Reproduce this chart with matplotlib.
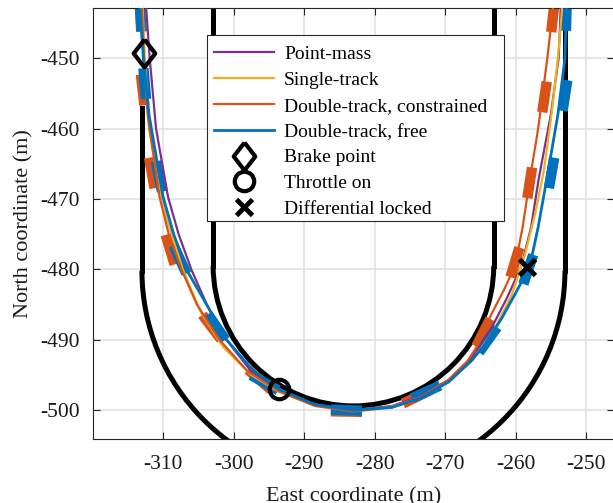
import numpy as np
import matplotlib
matplotlib.use('Agg')
import matplotlib.pyplot as plt
from matplotlib.patches import Arc, Rectangle

plt.rcParams['font.family'] = ['Liberation Serif', 'DejaVu Serif']
plt.rcParams['axes.unicode_minus'] = False

# track boundaries (hairpin): centre of the turn, radii, top of straights
track_cx = -283.0
inner_cy = -479.5
outer_cy = -480.2
inner_r = 19.9
outer_r = 30.0
straight_top = -440.0
outer_left_top = -457.0

# trajectories (east, north) in m
pm_x = [-312.4, -311.9, -311.0, -309.3, -307.8, -306.0, -303.8, -301.0, -297.5, -293.6, -288.5, -283.0,
        -277.5, -273.5, -269.5, -266.2, -263.5, -261.2, -259.2, -257.8, -256.7, -255.0, -253.9, -253.6]
pm_y = [-442.9, -450.0, -460.0, -469.7, -475.0, -480.0, -485.0, -490.0, -494.5, -497.2, -499.2, -500.0,
        -499.4, -498.0, -495.7, -492.5, -488.5, -484.0, -479.6, -474.0, -467.0, -458.0, -450.0, -442.9]

st_x = [-312.9, -312.6, -312.0, -310.8, -309.4, -307.2, -304.7, -301.5, -297.5, -293.6, -288.5, -283.0,
        -277.5, -273.5, -269.5, -266.0, -263.0, -260.5, -258.7, -257.2, -256.0, -254.9, -254.0, -253.4]
st_y = [-442.9, -450.0, -460.0, -467.0, -473.0, -480.0, -486.0, -491.0, -495.0, -497.4, -499.3, -500.1,
        -499.5, -498.2, -496.0, -492.8, -488.5, -483.5, -478.0, -472.0, -466.0, -458.0, -450.0, -442.9]

dc_x = [-313.0, -312.7, -312.2, -310.5, -309.2, -307.4, -305.2, -302.0, -298.0, -293.6, -288.5, -283.0,
        -277.5, -273.5, -269.5, -266.8, -265.2, -263.5, -261.7, -260.1, -259.0, -258.0, -256.8, -255.5, -254.7]
dc_y = [-442.9, -450.0, -458.0, -469.7, -475.0, -480.0, -485.0, -490.0, -494.5, -497.3, -499.4, -500.2,
        -499.6, -498.1, -495.7, -493.0, -490.5, -486.5, -483.0, -479.6, -474.0, -467.3, -460.0, -450.0, -442.9]

df_x = [-313.3, -312.8, -312.0, -310.0, -308.5, -306.7, -304.4, -301.0, -297.3, -293.6, -288.5, -283.0,
        -277.5, -273.6, -269.5, -266.3, -264.6, -262.0, -259.8, -258.0, -256.8, -255.6, -254.0, -253.0, -252.8]
df_y = [-442.9, -450.0, -458.0, -469.7, -475.0, -480.0, -484.0, -490.0, -494.3, -497.0, -499.2, -500.0,
        -499.6, -498.3, -496.0, -493.0, -491.0, -487.0, -483.0, -479.6, -474.0, -467.3, -458.0, -450.0, -442.9]

# vehicle footprints along the double-track runs
dc_car_x = [-313.2, -312.9, -311.6, -309.0, -303.1, -296.3, -284.0, -274.0, -264.6, -260.1, -258.0, -255.9, -254.7]
dc_car_y = [-444.0, -454.5, -466.3, -477.2, -488.2, -495.7, -500.2, -498.1, -489.0, -479.0, -467.7, -455.5, -444.1]
df_car_x = [-313.2, -312.6, -310.6, -307.6, -302.4, -295.6, -284.0, -272.7, -263.9, -258.2, -254.9, -253.0, -252.8]
df_car_y = [-444.0, -453.6, -466.8, -478.6, -488.2, -496.1, -500.0, -497.4, -490.0, -480.0, -466.3, -455.3, -443.9]
car_len = 4.4
car_w = 7.5

# events
brake_x, brake_y = -312.7, -449.2
throttle_x, throttle_y = -293.6, -497.0
diff_x, diff_y = -258.4, -479.6

labels = ['Point-mass', 'Single-track', 'Double-track, constrained', 'Double-track, free']
colors = ['#7E2F8E', '#EDB120', '#D95319', '#0072BD']

xticks = [-310, -300, -290, -280, -270, -260, -250]
yticks = [-500, -490, -480, -470, -460, -450]


def draw_cars(ax, px, py, cx, cy, color):
    px = np.asarray(px)
    py = np.asarray(py)
    for x, y in zip(cx, cy):
        i = int(np.argmin((px - x) ** 2 + (py - y) ** 2))
        i0, i1 = max(i - 1, 0), min(i + 1, len(px) - 1)
        d = np.array([px[i1] - px[i0], py[i1] - py[i0]])
        d = d / np.hypot(*d)
        ax.plot([x - d[0] * car_len / 2, x + d[0] * car_len / 2],
                [y - d[1] * car_len / 2, y + d[1] * car_len / 2],
                color=color, lw=car_w, solid_capstyle='butt', zorder=2.5)


fig = plt.figure(figsize=(6.13, 5.03), dpi=100)
ax = fig.add_axes([93.3 / 613, 64 / 503, 521 / 613, 430.7 / 503])

# track
k = dict(color='black', lw=3.6, zorder=2)
ax.add_patch(Arc((track_cx, inner_cy), 2 * inner_r, 2 * inner_r, theta1=180, theta2=360, **k))
ax.add_patch(Arc((track_cx, outer_cy), 2 * outer_r, 2 * outer_r, theta1=180, theta2=360, **k))
ax.plot([track_cx - inner_r] * 2, [inner_cy, straight_top], **k)
ax.plot([track_cx + inner_r] * 2, [inner_cy, straight_top], **k)
ax.plot([track_cx - outer_r] * 2, [outer_cy, outer_left_top], **k)
ax.plot([track_cx + outer_r] * 2, [outer_cy, straight_top], **k)

draw_cars(ax, dc_x, dc_y, dc_car_x, dc_car_y, colors[2])
draw_cars(ax, df_x, df_y, df_car_x, df_car_y, colors[3])

ax.plot(pm_x, pm_y, color=colors[0], lw=1.6, zorder=3, label=labels[0])
ax.plot(st_x, st_y, color=colors[1], lw=1.6, zorder=3, label=labels[1])
ax.plot(dc_x, dc_y, color=colors[2], lw=1.6, zorder=3, label=labels[2])
ax.plot(df_x, df_y, color=colors[3], lw=2.0, zorder=3, label=labels[3])

diamond = [(0, 1), (0.78, 0), (0, -1), (-0.78, 0), (0, 1)]
ax.plot(brake_x, brake_y, ls='none', marker=diamond, ms=20, mfc='none', mec='black', mew=3, zorder=4,
        label='Brake point')
ax.plot(throttle_x, throttle_y, ls='none', marker='o', ms=14, mfc='none', mec='black', mew=3, zorder=4,
        label='Throttle on')
ax.plot(diff_x, diff_y, ls='none', marker='x', ms=11, mec='black', mew=3.5, zorder=4,
        label='Differential locked')

ax.set_xlim(-319.9, -246.0)
ax.set_ylim(-504.1, -442.9)
ax.set_xticks(xticks)
ax.set_yticks(yticks)
ax.grid(True, color='#e3e3e3', lw=1.2)
ax.set_axisbelow(True)
for s in ax.spines.values():
    s.set_color('#262626')
    s.set_linewidth(0.8)
ax.tick_params(direction='in', length=5, width=0.8, top=True, right=True, labelsize=15.5,
               colors='#262626', labelcolor='#1a1a1a')
ax.tick_params(axis='x', pad=11.5)
ax.tick_params(axis='y', pad=9.5)
ax.set_xlabel('East coordinate (m)', fontsize=16, labelpad=9.5, color='#1a1a1a')
ax.set_ylabel('North coordinate (m)', fontsize=16, labelpad=5, color='#1a1a1a')

leg = ax.legend(loc='upper left', bbox_to_anchor=(0.219, 0.929), fontsize=14, frameon=False,
                borderpad=0.35, labelspacing=0.42, handlelength=3.1, handletextpad=0.5,
                borderaxespad=0)
leg.set_zorder(6)
# MATLAB-style box: a little extra room on the right and on top
fig.canvas.draw()
bb = leg.get_window_extent()
ax.add_patch(Rectangle((bb.x0, bb.y0 + 4), bb.width + 10, bb.height, transform=None,
                       facecolor='white', edgecolor='#262626', lw=0.8, zorder=5.9))

fig.savefig('out.png', dpi=100)
